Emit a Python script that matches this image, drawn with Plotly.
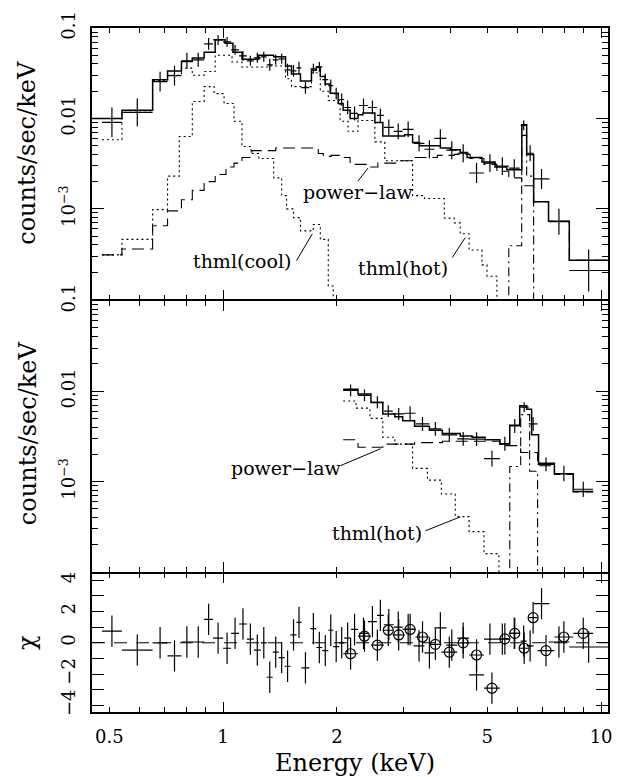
import numpy as np
import plotly.graph_objects as go

FONT = "DejaVu Serif"
OFF = 1e-9  # level used to draw a step down through the bottom of a panel

# ---------------- axis ranges ----------------
E_MIN, E_MAX = 0.45, 10.43
RATE_MIN, RATE_MAX = 1e-4, 0.1
CHI_MIN, CHI_MAX = -4.42, 4.42

# ---------------- upper panel: data (keV bins, counts/sec/keV) ----------------
top_e_lo = [0.478, 0.540, 0.651, 0.713, 0.776, 0.829, 0.891, 0.941, 1.000, 1.050,
            1.102, 1.156, 1.206, 1.258, 1.305, 1.353, 1.403, 1.455, 1.508, 1.564,
            1.612, 1.702, 1.765, 1.830, 1.898, 1.956, 2.028, 2.091, 2.181, 2.289,
            2.417, 2.552, 2.662, 2.829, 2.986, 3.192, 3.410, 3.622, 3.896, 4.163,
            4.476, 4.900, 5.269, 5.699, 6.128, 6.355, 6.630, 7.260, 8.240]
top_e_hi = [0.540, 0.651, 0.713, 0.776, 0.829, 0.891, 0.941, 1.000, 1.050, 1.102,
            1.156, 1.206, 1.258, 1.305, 1.353, 1.403, 1.455, 1.508, 1.564, 1.612,
            1.692, 1.765, 1.830, 1.898, 1.956, 2.028, 2.091, 2.181, 2.275, 2.417,
            2.552, 2.662, 2.829, 2.986, 3.192, 3.410, 3.622, 3.896, 4.163, 4.476,
            4.900, 5.269, 5.699, 6.091, 6.355, 6.630, 7.302, 8.240, 10.43]
top_rate = [0.00903, 0.01164, 0.0255, 0.0297, 0.0434, 0.0445, 0.0667, 0.0738, 0.0702, 0.0573,
            0.0492, 0.0434, 0.0468, 0.0480, 0.0392, 0.0445, 0.0456, 0.0345, 0.0336, 0.0363,
            0.0219, 0.0354, 0.0372, 0.0268, 0.0231, 0.0188, 0.0162, 0.0132, 0.01135, 0.0139,
            0.0132, 0.0108, 0.00796, 0.0072, 0.00757, 0.00531, 0.00456, 0.00603, 0.00445, 0.00412,
            0.00249, 0.0032, 0.00297, 0.00282, 0.00838, 0.00412, 0.00214, 0.00072, 0.000208]
top_rate_lo = [0.00618, 0.00817, 0.0198, 0.0231, 0.0355, 0.0373, 0.0573, 0.0650, 0.0619, 0.0505,
               0.0433, 0.0382, 0.0412, 0.0423, 0.0337, 0.0392, 0.0402, 0.0296, 0.0289, 0.0312,
               0.0188, 0.0312, 0.0328, 0.0230, 0.0198, 0.0162, 0.0139, 0.0111, 0.0095, 0.01164,
               0.0111, 0.00905, 0.0065, 0.00588, 0.00618, 0.00434, 0.00363, 0.0048, 0.00354, 0.00328,
               0.00193, 0.00255, 0.00236, 0.00225, 0.00738, 0.00337, 0.00166, 0.000518, 0.000122]
top_rate_hi = [0.0132, 0.01659, 0.0328, 0.0383, 0.0531, 0.0531, 0.0776, 0.0838, 0.0797, 0.0650,
               0.0558, 0.0493, 0.0531, 0.0545, 0.0456, 0.0505, 0.0518, 0.0402, 0.0391, 0.0423,
               0.0255, 0.0402, 0.0422, 0.0312, 0.0269, 0.0219, 0.0189, 0.0158, 0.01355, 0.0166,
               0.0158, 0.0129, 0.00974, 0.00881, 0.00927, 0.0065, 0.00573, 0.00757, 0.00559, 0.00517,
               0.00321, 0.00402, 0.00373, 0.00354, 0.00951, 0.00504, 0.00276, 0.00100, 0.000354]

# ---------------- upper panel: model and components ----------------
top_model_edges = [0.45, 0.540, 0.651, 0.713, 0.776, 0.829, 0.891, 0.953, 1.012, 1.062,
                   1.122, 1.243, 1.361, 1.463, 1.517, 1.602, 1.713, 1.765, 1.808, 1.863,
                   1.920, 2.016, 2.078, 2.168, 2.275, 2.344, 2.521, 2.646, 3.022, 3.172,
                   3.309, 3.757, 3.990, 4.240, 4.420, 4.840, 5.240, 5.630, 6.170, 6.355,
                   6.630, 7.260, 8.240, 10.43]
top_model = [0.0100, 0.0123, 0.0268, 0.0335, 0.0427, 0.0465, 0.054, 0.074, 0.068, 0.054,
             0.045, 0.050, 0.048, 0.038, 0.031, 0.026, 0.034, 0.037, 0.029, 0.024,
             0.019, 0.0146, 0.0123, 0.0100, 0.0110, 0.0115, 0.0090, 0.0064, 0.0066, 0.0054,
             0.0050, 0.0047, 0.0045, 0.0042, 0.0037, 0.0033, 0.0029, 0.0027, 0.0085, 0.0040,
             0.0012, 0.00073, 0.00027]

top_hot_edges = [0.478, 0.540, 0.651, 0.713, 0.776, 0.829, 0.891, 0.953, 1.056, 1.122,
                 1.320, 1.463, 1.517, 1.713, 1.808, 1.898, 2.040, 2.141, 2.275, 2.521,
                 2.678, 3.172, 3.410, 3.848, 4.088, 4.240, 4.476, 4.840, 4.991, 5.301]
top_hot = [0.0058, 0.0117, 0.026, 0.030, 0.036, 0.030, 0.033, 0.050, 0.042, 0.037,
           0.038, 0.0275, 0.0225, 0.032, 0.020, 0.0158, 0.0093, 0.0072, 0.0095, 0.0055,
           0.0034, 0.0014, 0.0013, 0.00079, 0.00070, 0.00053, 0.00035, 0.00024, 0.00018]

top_cool_edges = [0.478, 0.540, 0.651, 0.713, 0.766, 0.829, 0.891, 0.947, 1.006, 1.069,
                  1.122, 1.185, 1.243, 1.361, 1.429, 1.472, 1.536, 1.602, 1.733, 1.808,
                  1.898, 1.956]
top_cool = [0.00031, 0.00046, 0.00098, 0.0023, 0.0063, 0.0154, 0.0225, 0.0188, 0.0146, 0.0093,
            0.0049, 0.0041, 0.0036, 0.0022, 0.0014, 0.0010, 0.00080, 0.00057, 0.00067, 0.00046,
            0.00014]

top_pl_edges = [0.478, 0.540, 0.651, 0.713, 0.776, 0.829, 0.891, 0.953, 1.018, 1.069,
                1.122, 1.191, 1.258, 1.378, 1.583, 1.786, 1.841, 1.932, 2.078, 2.168,
                2.417, 2.567, 2.897, 3.172, 3.689, 4.088, 4.503, 4.900, 5.301, 5.699,
                6.166, 6.630, 7.260, 8.240, 10.43]
top_pl = [0.00031, 0.00036, 0.00065, 0.00095, 0.00126, 0.0016, 0.0020, 0.0024, 0.0029, 0.0032,
          0.0037, 0.0044, 0.0044, 0.0047, 0.0047, 0.0041, 0.0038, 0.0039, 0.0037, 0.0031,
          0.0029, 0.0032, 0.0034, 0.0037, 0.0039, 0.0040, 0.0036, 0.0031, 0.0026, 0.0022,
          0.0018, 0.0012, 0.00073, 0.00027]

top_line_edges = [5.699, 6.166, 6.355, 6.630]
top_line = [0.00039, 0.0065, 0.0023]

# ---------------- middle panel: data ----------------
mid_e_lo = [2.078, 2.275, 2.461, 2.662, 2.811, 3.022, 3.231, 3.514, 3.780, 4.163,
            4.476, 4.900, 5.399, 5.734, 6.091, 6.433, 6.792, 7.526, 8.444]
mid_e_hi = [2.275, 2.461, 2.662, 2.811, 3.022, 3.231, 3.514, 3.780, 4.163, 4.476,
            4.900, 5.399, 5.734, 6.091, 6.433, 6.792, 7.526, 8.444, 9.528]
mid_rate = [0.0102, 0.0090, 0.00755, 0.00601, 0.0056, 0.0057, 0.00434, 0.00383, 0.00329, 0.00297,
            0.00295, 0.0018, 0.00262, 0.00412, 0.00665, 0.00434, 0.00155, 0.00123, 0.000824]
mid_rate_lo = [0.00877, 0.00774, 0.00649, 0.00517, 0.00481, 0.00478, 0.00364, 0.00321, 0.00276, 0.00249,
               0.00247, 0.00147, 0.0022, 0.00345, 0.00587, 0.00364, 0.0013, 0.00101, 0.000674]
mid_rate_hi = [0.01186, 0.01047, 0.00878, 0.00699, 0.00651, 0.0068, 0.00518, 0.00457, 0.00392, 0.00354,
               0.00352, 0.0022, 0.00313, 0.00492, 0.00754, 0.00518, 0.00185, 0.0015, 0.0010]

# ---------------- middle panel: model and components ----------------
mid_model_edges = [2.078, 2.275, 2.461, 2.646, 2.846, 2.986, 3.211, 3.514, 3.802, 4.240,
                   4.558, 4.930, 5.399, 5.734, 6.091, 6.355, 6.551, 6.833, 7.526, 8.444, 9.528]
mid_model = [0.0105, 0.0093, 0.0075, 0.0056, 0.0052, 0.0047, 0.0041, 0.0037, 0.0034, 0.0032,
             0.0031, 0.0029, 0.0026, 0.0042, 0.0069, 0.0063, 0.0033, 0.0016, 0.00122, 0.00078]

mid_hot_edges = [2.078, 2.247, 2.446, 2.646, 2.846, 3.172, 3.473, 3.780, 4.113, 4.476, 4.900, 5.366]
mid_hot = [0.0078, 0.0065, 0.0050, 0.0031, 0.0026, 0.0014, 0.00104, 0.00073, 0.00041, 0.00028, 0.00016]

mid_pl_edges = [2.078, 2.275, 2.646, 3.211, 3.802, 5.399, 6.128, 6.792, 7.526, 8.444, 9.528]
mid_pl = [0.0029, 0.0024, 0.0026, 0.0027, 0.0028, 0.0025, 0.0021, 0.0015, 0.0012, 0.00077]

mid_line_edges = [5.734, 6.128, 6.471, 6.792]
mid_line = [0.00147, 0.0055, 0.0013]

# ---------------- residuals (chi) ----------------
res_top_chi = [0.74, -0.47, 0.0, -0.84, 0.05, 0.05, 1.5, 0.3, -0.35, 0.6,
               1.2, 0.23, -0.47, 0.0, -2.2, -0.6, -0.95, -1.5, 0.5, 1.3,
               -1.6, 0.9, -0.3, -0.5, 0.8, -0.25, 0.0, 0.3, 0.85, 0.6,
               1.35, 1.75, 1.15, 1.0, 0.85, -0.2, -0.65, 0.95, -0.15, 0.3,
               -2.05, 0.23, 0.23, 0.6, 0.1, -0.2, 2.5, 0.05, -0.27]
res_mid_chi = [-0.7, 0.42, -0.15, 0.8, 0.5, 0.85, 0.37, -0.1, -0.6, 0.0,
               -0.78, -2.9, 0.25, 0.6, -0.35, 1.6, -0.5, 0.37, 0.6]

# ---------------- labels ----------------
x_tick_vals = [0.5, 1, 2, 5, 10]
x_tick_text = ["0.5", "1", "2", "5", "10"]
x_major = [1, 10]
x_minor = [0.5, 0.6, 0.7, 0.8, 0.9, 2, 3, 4, 5, 6, 7, 8, 9]
rate_major = [0.1, 0.01, 0.001]
rate_text = ["0.1", "0.01", "10<sup>−3</sup>"]
rate_minor = [1e-4] + [k * 10.0 ** d for d in (-4, -3, -2) for k in range(2, 10)]
chi_major = [-4, -2, 0, 2, 4]
chi_text = ["−4", "−2", "0", "2", "4"]
chi_minor = [-3, -1, 1, 3]

# component labels: (text, text position E, rate), leader (E0, r0, E1, r1)
top_labels = [
    ("thml(cool)", 1.122, 0.000262, (1.564, 0.000268, 1.723, 0.00053)),
    ("power−law", 2.275, 0.00154, (2.275, 0.00203, 2.417, 0.00282)),
    ("thml(hot)", 2.986, 0.000219, (4.04, 0.00029, 4.37, 0.00048)),
]
mid_labels = [
    ("power−law", 1.472, 0.00143, (2.05, 0.00151, 2.61, 0.00231)),
    ("thml(hot)", 2.552, 0.000272, (3.43, 0.000286, 4.24, 0.000407)),
]

# ================= figure =================
fig = go.Figure()


def step_xy(edges, vals, start_off=False, end_off=False):
    x = list(edges)
    y = list(vals) + [vals[-1]]
    if end_off:
        y[-1] = OFF
    if start_off:
        x = [edges[0]] + x
        y = [OFF] + y
    return x, y


def add_step(edges, vals, xa, ya, dash="solid", width=1.0, start_off=False, end_off=False):
    x, y = step_xy(edges, vals, start_off, end_off)
    fig.add_trace(go.Scatter(x=x, y=y, mode="lines", xaxis=xa, yaxis=ya,
                             line=dict(shape="hv", color="black", width=width, dash=dash),
                             showlegend=False, hoverinfo="skip"))


def add_data(elo, ehi, y, ylo, yhi, xa, ya):
    elo = np.array(elo); ehi = np.array(ehi)
    y = np.array(y); ylo = np.array(ylo); yhi = np.array(yhi)
    x = np.sqrt(elo * ehi)
    fig.add_trace(go.Scatter(
        x=x, y=y, mode="markers", xaxis=xa, yaxis=ya,
        marker=dict(size=1, color="black"),
        error_x=dict(type="data", symmetric=False, array=ehi - x, arrayminus=x - elo,
                     width=0, thickness=1.2, color="black"),
        error_y=dict(type="data", symmetric=False, array=yhi - y, arrayminus=y - ylo,
                     width=0, thickness=1.2, color="black"),
        showlegend=False, hoverinfo="skip"))


def add_resid(elo, ehi, chi, circles=False):
    elo = np.array(elo); ehi = np.array(ehi)
    x = np.sqrt(elo * ehi)
    marker = dict(size=1, color="black")
    if circles:
        marker = dict(size=10, symbol="circle-open", color="black", line=dict(width=1.2, color="black"))
    fig.add_trace(go.Scatter(
        x=x, y=chi, mode="markers", xaxis="x3", yaxis="y3", marker=marker,
        error_x=dict(type="data", symmetric=False, array=ehi - x, arrayminus=x - elo,
                     width=0, thickness=1.2, color="black"),
        error_y=dict(type="constant", value=1, width=0, thickness=1.2, color="black"),
        showlegend=False, hoverinfo="skip"))


DOT = "2px,3px"
DASH = "12px,6px"
DASHDOT = "9px,4px,2px,4px"

# upper panel
add_step(top_model_edges, top_model, "x", "y", "solid", 1.5)
add_step(top_hot_edges, top_hot, "x", "y", DOT, 1.1, end_off=True)
add_step(top_cool_edges, top_cool, "x", "y", DOT, 1.1, end_off=True)
add_step(top_pl_edges, top_pl, "x", "y", DASH, 1.1)
add_step(top_line_edges, top_line, "x", "y", DASHDOT, 1.1, start_off=True, end_off=True)
add_data(top_e_lo, top_e_hi, top_rate, top_rate_lo, top_rate_hi, "x", "y")

# middle panel
add_step(mid_model_edges, mid_model, "x2", "y2", "solid", 1.5)
add_step(mid_hot_edges, mid_hot, "x2", "y2", DOT, 1.1, end_off=True)
add_step(mid_pl_edges, mid_pl, "x2", "y2", DASH, 1.1)
add_step(mid_line_edges, mid_line, "x2", "y2", DASHDOT, 1.1, start_off=True, end_off=True)
add_data(mid_e_lo, mid_e_hi, mid_rate, mid_rate_lo, mid_rate_hi, "x2", "y2")

# residual panel
fig.add_trace(go.Scatter(x=[E_MIN, E_MAX], y=[0, 0], mode="lines", xaxis="x3", yaxis="y3",
                         line=dict(color="black", width=1.0, dash="13px,9px"),
                         showlegend=False, hoverinfo="skip"))
add_resid(top_e_lo, top_e_hi, res_top_chi)
add_resid(mid_e_lo, mid_e_hi, res_mid_chi, circles=True)

# dummy trace so that the label-only axis is drawn
fig.add_trace(go.Scatter(x=[1], y=[0], xaxis="x4", yaxis="y3", mode="markers",
                         marker=dict(opacity=0), showlegend=False, hoverinfo="skip"))

# leader lines and labels
annotations = []
for labels, xa, ya in ((top_labels, "x", "y"), (mid_labels, "x2", "y2")):
    for text, ex, ry, (e0, r0, e1, r1) in labels:
        fig.add_trace(go.Scatter(x=[e0, e1], y=[r0, r1], mode="lines", xaxis=xa, yaxis=ya,
                                 line=dict(color="black", width=1.0),
                                 showlegend=False, hoverinfo="skip"))
        annotations.append(dict(text=text, x=np.log10(ex), y=np.log10(ry), xref=xa, yref=ya,
                                showarrow=False, font=dict(family=FONT, size=19, color="black"),
                                xanchor="center", yanchor="middle"))

W, H = 623, 777
ML, MR, MT, MB = 92, 11, 24, 65
PW, PH = W - ML - MR, H - MT - MB


def px_to_paper(px, py):
    return (px - ML) / PW, (H - MB - py) / PH


def add_text(text, px, py, size, angle=0):
    x, y = px_to_paper(px, py)
    annotations.append(dict(text=text, x=x, y=y, xref="paper", yref="paper", showarrow=False,
                            textangle=angle, xanchor="center", yanchor="middle",
                            font=dict(family=FONT, size=size, color="black")))


add_text("counts/sec/keV", 27, 150, 24, -90)
add_text("counts/sec/keV", 27, 432, 24, -90)
add_text("χ", 27, 642, 24, -90)
add_text("Energy (keV)", 357, 763, 24)

tickfont = dict(family=FONT, size=18, color="black")
xr = [np.log10(E_MIN), np.log10(E_MAX)]
LW = 1.5

xcommon = dict(type="log", range=xr, tickmode="array", tickvals=x_major, ticks="inside",
               ticklen=10, tickwidth=1.2, tickcolor="black", showticklabels=False,
               showline=True, linecolor="black", linewidth=LW, mirror="allticks",
               showgrid=False, zeroline=False,
               minor=dict(tickmode="array", tickvals=x_minor, ticks="inside", ticklen=5,
                          tickwidth=1.2, tickcolor="black", showgrid=False))

ycommon = dict(type="log", range=[np.log10(RATE_MIN), np.log10(RATE_MAX)], tickmode="array",
               tickvals=rate_major, ticktext=rate_text, ticks="inside", ticklen=12,
               tickwidth=1.2, tickcolor="black", tickangle=-90, tickfont=tickfont,
               ticklabelstandoff=8,
               showline=True, linecolor="black", linewidth=LW, mirror="allticks",
               showgrid=False, zeroline=False,
               minor=dict(tickmode="array", tickvals=rate_minor, ticks="inside", ticklen=6,
                          tickwidth=1.2, tickcolor="black", showgrid=False))

# panel boundaries (paper fraction); a small gap lets the two frame lines coincide
gap = LW / PH
d1 = 140 / PH
d2 = (140 + 274.4) / PH

fig.update_layout(
    width=W, height=H,
    margin=dict(l=ML, r=MR, t=MT, b=MB, pad=0),
    paper_bgcolor="white", plot_bgcolor="white",
    showlegend=False,
    xaxis=dict(xcommon, anchor="y"),
    xaxis2=dict(xcommon, anchor="y2"),
    xaxis3=dict(xcommon, anchor="y3"),
    xaxis4=dict(type="log", range=xr, overlaying="x3", anchor="y3", side="bottom",
                tickmode="array", tickvals=x_tick_vals, ticktext=x_tick_text, ticks="",
                tickfont=tickfont, ticklabelstandoff=12, showline=False, showgrid=False,
                zeroline=False),
    yaxis=dict(ycommon, domain=[d2 + gap / 2, 1], anchor="x"),
    yaxis2=dict(ycommon, domain=[d1 + gap / 2, d2 - gap / 2], anchor="x2"),
    yaxis3=dict(range=[CHI_MIN, CHI_MAX], domain=[0, d1 - gap / 2], anchor="x3", tickmode="array",
                tickvals=chi_major, ticktext=chi_text, ticks="inside", ticklen=12,
                tickwidth=1.2, tickcolor="black", tickangle=-90, tickfont=tickfont,
                ticklabelstandoff=8,
                showline=True, linecolor="black", linewidth=LW, mirror="allticks",
                showgrid=False, zeroline=False,
                minor=dict(tickmode="array", tickvals=chi_minor, ticks="inside", ticklen=6,
                           tickwidth=1.2, tickcolor="black", showgrid=False)),
    annotations=annotations,
)

fig.write_html("out.html")
